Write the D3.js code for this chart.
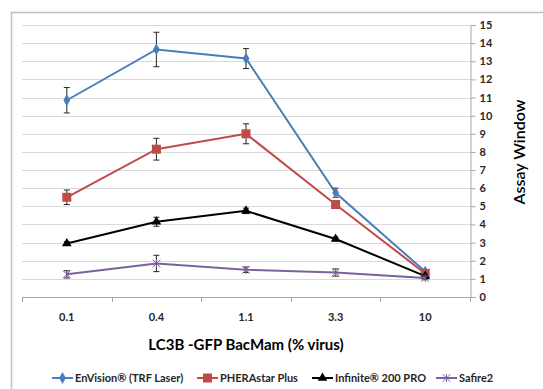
<!DOCTYPE html>
<html>
<head>
<meta charset="utf-8">
<script src="https://cdn.jsdelivr.net/npm/d3@7"></script>
<style>
  body { margin: 0; background: #fff; }
  svg { font-family: Lato, "Open Sans", sans-serif; }
</style>
</head>
<body>
<svg id="chart" width="543" height="389"></svg>
<script>
  var width = 543, height = 389

  var categories = ["0.1", "0.4", "1.1", "3.3", "10"]
  var yTicks = [0, 1, 2, 3, 4, 5, 6, 7, 8, 9, 10, 11, 12, 13, 14, 15]

  var envision = [10.85, 13.65, 13.15, 5.75, 1.4]
  var envisionErr = [0.7, 0.95, 0.55, 0.25, 0.1]
  var pherastar = [5.5, 8.15, 9.0, 5.1, 1.3]
  var pherastarErr = [0.4, 0.6, 0.55, 0.1, 0.1]
  var infinite = [2.95, 4.15, 4.75, 3.2, 1.15]
  var infiniteErr = [0.1, 0.25, 0.15, 0.1, 0.1]
  var safire = [1.25, 1.85, 1.5, 1.35, 1.05]
  var safireErr = [0.2, 0.45, 0.15, 0.2, 0.1]

  var seriesNames = ["EnVision® (TRF Laser)", "PHERAstar Plus", "Infinite® 200 PRO", "Safire2"]

  var series = [
    {name: seriesNames[0], values: envision, err: envisionErr, color: "#4a7ebb", marker: "diamond"},
    {name: seriesNames[1], values: pherastar, err: pherastarErr, color: "#be4b48", marker: "square"},
    {name: seriesNames[2], values: infinite, err: infiniteErr, color: "#000000", marker: "triangle"},
    {name: seriesNames[3], values: safire, err: safireErr, color: "#7d60a0", marker: "star"}
  ]

  var svg = d3.select("#chart")

  // chart frame
  svg.append("rect")
    .attr("x", 11.5).attr("y", 12.5)
    .attr("width", 560).attr("height", 400)
    .attr("fill", "none").attr("stroke", "#bfbfbf").attr("stroke-width", 1.5)

  var plotLeft = 22, plotRight = 470, plotTop = 25, plotBottom = 297

  var x = d3.scaleBand().domain(categories).range([plotLeft, plotRight])
  var y = d3.scaleLinear().domain([0, 15]).range([plotBottom, plotTop])

  // gridlines
  svg.append("g").selectAll("line")
    .data(yTicks.filter(function(d){ return d > 0 }))
    .enter().append("line")
    .attr("x1", plotLeft).attr("x2", plotRight)
    .attr("y1", function(d){ return Math.round(y(d)) + 0.5 })
    .attr("y2", function(d){ return Math.round(y(d)) + 0.5 })
    .attr("stroke", "#d9d9d9")

  // x axis
  var xAxis = svg.append("g")
  xAxis.append("line")
    .attr("x1", plotLeft).attr("x2", plotRight)
    .attr("y1", plotBottom + 0.5).attr("y2", plotBottom + 0.5)
    .attr("stroke", "#a6a6a6")
  var bounds = categories.map(function(c){ return x(c) }).concat([plotRight])
  xAxis.selectAll(".tk").data(bounds).enter().append("line")
    .attr("x1", function(d){ return Math.round(d) + 0.5 })
    .attr("x2", function(d){ return Math.round(d) + 0.5 })
    .attr("y1", plotBottom).attr("y2", plotBottom + 5)
    .attr("stroke", "#a6a6a6")
  xAxis.selectAll("text").data(categories).enter().append("text")
    .attr("x", function(d){ return x(d) + x.bandwidth() / 2 })
    .attr("y", 321)
    .attr("text-anchor", "middle")
    .attr("font-size", 11).attr("font-weight", "bold").attr("fill", "#262626")
    .text(function(d){ return d })

  // y axis (right)
  var yAxis = d3.axisRight(y).tickValues(yTicks).tickSize(5).tickPadding(4)
  var ya = svg.append("g").attr("transform", "translate(" + (plotRight + 0.5) + ",0)").call(yAxis)
  ya.select(".domain").attr("stroke", "#a6a6a6")
  ya.selectAll(".tick line").attr("stroke", "#a6a6a6")
  ya.selectAll(".tick text").attr("font-size", 11).attr("font-weight", "bold")
    .attr("fill", "#262626").attr("font-family", "Lato, sans-serif")

  // axis titles
  svg.append("text")
    .attr("x", (plotLeft + plotRight) / 2).attr("y", 350)
    .attr("text-anchor", "middle")
    .attr("font-size", 15).attr("font-weight", "bold").attr("fill", "#000")
    .text("LC3B -GFP BacMam (% virus)")

  svg.append("text")
    .attr("transform", "translate(525,152) rotate(-90)")
    .attr("text-anchor", "middle")
    .attr("font-size", 16).attr("font-weight", 600).attr("fill", "#000")
    .text("Assay Window")

  function cx(i){ return x(categories[i]) + x.bandwidth() / 2 }

  function drawMarker(g, type, color, px, py) {
    if (type === "diamond") {
      g.append("path").attr("d", d3.symbol(d3.symbolDiamond, 40)())
        .attr("transform", "translate(" + px + "," + py + ")").attr("fill", color)
    } else if (type === "square") {
      g.append("rect").attr("x", px - 4.5).attr("y", py - 4.5)
        .attr("width", 9).attr("height", 9).attr("fill", color)
    } else if (type === "triangle") {
      g.append("path").attr("d", d3.symbol(d3.symbolTriangle, 40)())
        .attr("transform", "translate(" + px + "," + py + ")").attr("fill", color)
    } else {
      g.append("path").attr("d", d3.symbol(d3.symbolTimes, 40)())
        .attr("transform", "translate(" + px + "," + py + ")")
        .attr("fill", "none").attr("stroke", color).attr("stroke-width", 1)
      g.append("line").attr("x1", px).attr("x2", px).attr("y1", py - 4).attr("y2", py + 4)
        .attr("stroke", color).attr("stroke-width", 1)
    }
  }

  var line = d3.line()
    .x(function(d, i){ return cx(i) })
    .y(function(d){ return y(d) })

  series.forEach(function(s) {
    var g = svg.append("g")
    g.append("path").datum(s.values)
      .attr("d", line)
      .attr("fill", "none").attr("stroke", s.color).attr("stroke-width", 2)

    // error bars
    s.values.forEach(function(v, i) {
      var e = s.err[i]
      var px = cx(i)
      g.append("line").attr("x1", px).attr("x2", px)
        .attr("y1", y(v + e)).attr("y2", y(v - e))
        .attr("stroke", "#262626").attr("stroke-width", 1)
      g.append("line").attr("x1", px - 3).attr("x2", px + 3)
        .attr("y1", y(v + e)).attr("y2", y(v + e))
        .attr("stroke", "#262626").attr("stroke-width", 1)
      g.append("line").attr("x1", px - 3).attr("x2", px + 3)
        .attr("y1", y(v - e)).attr("y2", y(v - e))
        .attr("stroke", "#262626").attr("stroke-width", 1)
    })

    s.values.forEach(function(v, i) {
      drawMarker(g, s.marker, s.color, cx(i), y(v))
    })
  })

  // legend
  var legendX = [52, 197, 312, 436]
  var legend = svg.append("g")
  series.forEach(function(s, i) {
    var lx = legendX[i], ly = 378
    legend.append("line").attr("x1", lx).attr("x2", lx + 21)
      .attr("y1", ly).attr("y2", ly)
      .attr("stroke", s.color).attr("stroke-width", 2)
    drawMarker(legend, s.marker, s.color, lx + 10.5, ly)
    legend.append("text")
      .attr("x", lx + 23).attr("y", ly + 4)
      .attr("font-size", 11).attr("font-weight", "bold").attr("fill", "#262626")
      .text(s.name)
  })
</script>
</body>
</html>
